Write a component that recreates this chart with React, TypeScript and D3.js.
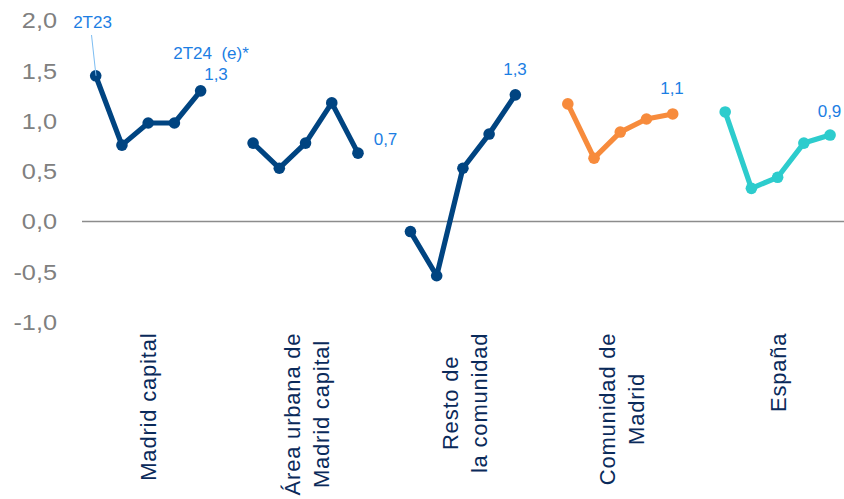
import React from "react";
import * as d3 from "d3";

const groups = ["Madrid capital", "Área urbana de\nMadrid capital", "Resto de\nla comunidad", "Comunidad de\nMadrid", "España"];
const periods = ["2T23", "3T23", "4T23", "1T24", "2T24"];
const madridCapital = [1.45, 0.76, 0.98, 0.98, 1.30];
const areaUrbana = [0.78, 0.53, 0.78, 1.18, 0.68];
const restoComunidad = [-0.10, -0.54, 0.53, 0.87, 1.26];
const comunidadMadrid = [1.17, 0.63, 0.89, 1.02, 1.07];
const espana = [1.09, 0.33, 0.44, 0.78, 0.86];
const lastLabels = ["1,3", "0,7", "1,3", "1,1", "0,9"];
const yTicks = [-1, -0.5, 0, 0.5, 1, 1.5, 2];

const seriesValues = [madridCapital, areaUrbana, restoComunidad, comunidadMadrid, espana];
const seriesColors = ["#004481", "#004481", "#004481", "#F78B3C", "#2DCCCD"];

const W = 844, H = 499;
const FONT = "'Liberation Sans', Arial, sans-serif";

const slots: string[] = [];
groups.forEach((g, gi) => {
  if (gi > 0) slots.push(`gap${gi}`);
  periods.forEach((p) => slots.push(`${gi}-${p}`));
});

const x = d3.scaleBand<string>().domain(slots).range([82.6, 843.2]).paddingInner(0).paddingOuter(0);
const y = d3.scaleLinear().domain([-1, 2]).range([322, 20.5]);
const cx = (k: string) => (x(k) as number) + x.bandwidth() / 2;

const fmt = (v: number) => d3.format(".1f")(v).replace(".", ",").replace("\u2212", "-");

let ctx: CanvasRenderingContext2D | null = null;
function measure(t: string, size: number, ls: number) {
  if (!ctx) ctx = document.createElement("canvas").getContext("2d");
  if (!ctx) return t.length * size * 0.5;
  ctx.font = `${size}px 'Liberation Sans'`;
  return ctx.measureText(t).width + ls * (t.length - 1);
}

export default function App() {
  const line = d3.line<[number, number]>().x((d) => d[0]).y((d) => d[1]);
  const catSize = 22;
  const catLS = 0.8;
  const labelTop = 333;
  const lineGap = 29;
  const annColor = "#1C7EE3";

  return (
    <svg width={W} height={H} style={{ position: "absolute", left: 0, top: 0, background: "#fff" }}>
      {/* y tick labels */}
      {yTicks.map((t) => (
        <text key={t} x={57} y={y(t)} dy={0.358 * 22} textAnchor="end" fontSize={22} fill="#808080"
          fontFamily={FONT} transform={`translate(57,0) scale(1.15,1) translate(-57,0)`}>
          {fmt(t)}
        </text>
      ))}
      {/* zero line */}
      <line x1={82} x2={844} y1={y(0)} y2={y(0)} stroke="#8C8C8C" strokeWidth={1.5} />

      {/* series */}
      {groups.map((g, gi) => {
        const pts: [number, number][] = periods.map((p, i) => [cx(`${gi}-${p}`), y(seriesValues[gi][i])]);
        return (
          <g key={g}>
            <path d={line(pts) || ""} fill="none" stroke={seriesColors[gi]} strokeWidth={5.2} strokeLinejoin="round" />
            {pts.map((p, i) => (
              <circle key={i} cx={p[0]} cy={p[1]} r={5.8} fill={seriesColors[gi]} />
            ))}
          </g>
        );
      })}

      {/* last value labels */}
      {[[216, 74], [385.5, 139], [515, 69], [672, 88], [829.5, 111]].map((pos, gi) => (
        <text key={gi} x={pos[0]} y={pos[1]} dy={0.358 * 17} textAnchor="middle" fontSize={17} fill={annColor} fontFamily={FONT}>
          {lastLabels[gi]}
        </text>
      ))}
      {/* annotations */}
      <line x1={91.5} y1={35} x2={96} y2={y(madridCapital[0])} stroke="#7DBDF2" strokeWidth={1} />
      <text x={92.5} y={21.5} dy={0.358 * 17} textAnchor="middle" fontSize={17} fill={annColor} fontFamily={FONT}>2T23</text>
      <text x={211} y={53} dy={0.358 * 17} textAnchor="middle" fontSize={17} fill={annColor} fontFamily={FONT} style={{ whiteSpace: "pre" }}>
        {"2T24  (e)*"}
      </text>

      {/* category labels */}
      {groups.map((g, gi) => {
        const lines = g.split("\n");
        const gc = cx(`${gi}-${periods[2]}`);
        const L = Math.max(...lines.map((l) => measure(l, catSize, catLS)));
        const yc = labelTop + L / 2;
        return (
          <g key={g}>
            {lines.map((l, li) => {
              const vc = gc + (li - (lines.length - 1) / 2) * lineGap + (lines.length > 1 ? 1.5 : 0);
              const bx = vc + 0.358 * catSize;
              return (
                <text key={li} transform={`translate(${bx},${yc}) rotate(-90)`} textAnchor="middle"
                  fontSize={catSize} fill="#0A2A5A" fontFamily={FONT} letterSpacing={catLS}>
                  {l}
                </text>
              );
            })}
          </g>
        );
      })}
    </svg>
  );
}
